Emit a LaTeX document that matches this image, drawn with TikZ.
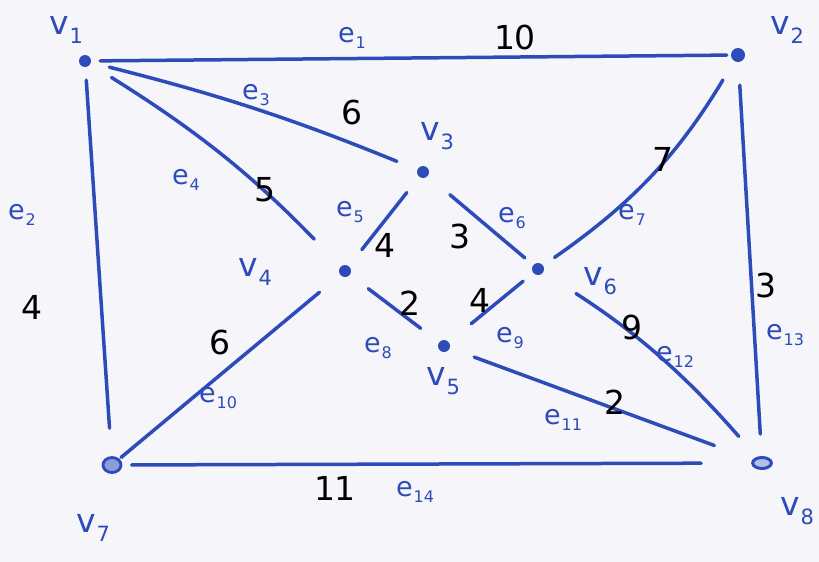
\documentclass[tikz,border=0pt]{standalone}
\usepackage{fontspec}
\setmainfont{DejaVu Sans}
\definecolor{pen}{RGB}{45,75,185}
\definecolor{paper}{RGB}{246,246,250}
\newcommand{\vsb}[1]{v\kern1pt\raisebox{-9pt}{\fontsize{21}{21}\selectfont #1}}
\newcommand{\esb}[1]{e\kern1pt\raisebox{-6pt}{\fontsize{16}{16}\selectfont #1}}
\begin{document}
\begin{tikzpicture}[x=1pt,y=-1pt,
 vert/.style={circle,fill=pen,inner sep=0pt,minimum size=12pt},
 edge/.style={draw=pen,line width=3.5pt,line cap=round},
 vlab/.style={text=pen,font=\fontsize{33}{36}\selectfont,inner sep=0pt},
 elab/.style={text=pen,font=\fontsize{27}{30}\selectfont,inner sep=0pt},
 wlab/.style={text=black,font=\fontsize{33}{36}\selectfont,inner sep=0pt}]
\fill[paper] (0,0) rectangle (819,562);
\useasboundingbox (0,0) rectangle (819,562);
% vertices
\node[vert] (v1) at (85,61) {};
\node[vert,minimum size=14pt] (v2) at (738,55) {};
\node[vert] (v3) at (423,172) {};
\node[vert] (v4) at (345,271) {};
\node[vert] (v5) at (444,346) {};
\node[vert] (v6) at (538,269) {};
\node[circle,draw=pen,line width=2.8pt,fill=pen!55,inner sep=0pt,minimum size=15pt,xscale=1.2] (v7) at (112,465) {};
\node[circle,draw=pen,line width=3pt,fill=pen!35,inner sep=0pt,minimum size=11pt,xscale=1.7] (v8) at (762,463) {};
% vertex labels
\node[vlab] (lv1) at (66,30) {\vsb{1}};
\node[vlab] (lv2) at (787,30) {\vsb{2}};
\node[vlab] (lv3) at (437,136) {\vsb{3}};
\node[vlab] (lv4) at (255,272) {\vsb{4}};
\node[vlab] (lv5) at (443,381) {\vsb{5}};
\node[vlab] (lv6) at (600,281) {\vsb{6}};
\node[vlab] (lv7) at (93,528) {\vsb{7}};
\node[vlab] (lv8) at (797,511) {\vsb{8}};
% edges
\draw[edge,shorten <=9pt,shorten >=4pt] (v1) -- (v2);
\draw[edge,shorten <=13pt,shorten >=28pt] (v1) -- (v7);
\draw[edge,shorten <=19pt,shorten >=22pt] (v1) to[bend left=4] (v3);
\draw[edge,shorten <=25pt,shorten >=38pt] (v1) to[bend left=7] (v4);
\draw[edge,shorten <=20pt,shorten >=21pt] (v3) -- (v4);
\draw[edge,shorten <=29pt,shorten >=11pt] (v3) -- (v6);
\draw[edge,shorten <=14pt,shorten >=22pt] (v6) to[bend right=12] (v2);
\draw[edge,shorten <=23pt,shorten >=23pt] (v4) -- (v5);
\draw[edge,shorten <=29pt,shorten >=13pt] (v5) -- (v6);
\draw[edge,shorten <=27pt,shorten >=2pt] (v4) -- (v7);
\draw[edge,shorten <=26pt,shorten >=40pt] (v5) -- (v8);
\draw[edge,shorten <=39pt,shorten >=27pt] (v6) to[bend left=8] (v8);
\draw[edge,shorten <=23pt,shorten >=22pt] (v2) -- (v8);
\draw[edge,shorten <=9pt,shorten >=49pt] (v7) -- (v8);
% edge labels
\node[elab] (le1) at (352,38) {\esb{1}};
\node[elab] (le2) at (22,215) {\esb{2}};
\node[elab] (le3) at (256,95) {\esb{3}};
\node[elab] (le4) at (186,180) {\esb{4}};
\node[elab] (le5) at (350,212) {\esb{5}};
\node[elab] (le6) at (512,218) {\esb{6}};
\node[elab] (le7) at (632,215) {\esb{7}};
\node[elab] (le8) at (378,348) {\esb{8}};
\node[elab] (le9) at (510,338) {\esb{9}};
\node[elab] (le10) at (218,398) {\esb{10}};
\node[elab] (le11) at (563,420) {\esb{11}};
\node[elab] (le12) at (675,357) {\esb{12}};
\node[elab] (le13) at (785,335) {\esb{13}};
\node[elab] (le14) at (415,492) {\esb{14}};
% weights
\node[wlab] (w1) at (515,37) {10};
\node[wlab] (w2) at (32,307) {4};
\node[wlab] (w3) at (352,112) {6};
\node[wlab] (w4) at (265,190) {5};
\node[wlab] (w5) at (385,245) {4};
\node[wlab] (w6) at (460,236) {3};
\node[wlab] (w7) at (663,159) {7};
\node[wlab] (w8) at (410,303) {2};
\node[wlab] (w9) at (480,300) {4};
\node[wlab] (w10) at (220,342) {6};
\node[wlab] (w11) at (615,402) {2};
\node[wlab] (w12) at (632,327) {9};
\node[wlab] (w13) at (766,285) {3};
\node[wlab] (w14) at (335,488) {11};
\end{tikzpicture}
\end{document}
